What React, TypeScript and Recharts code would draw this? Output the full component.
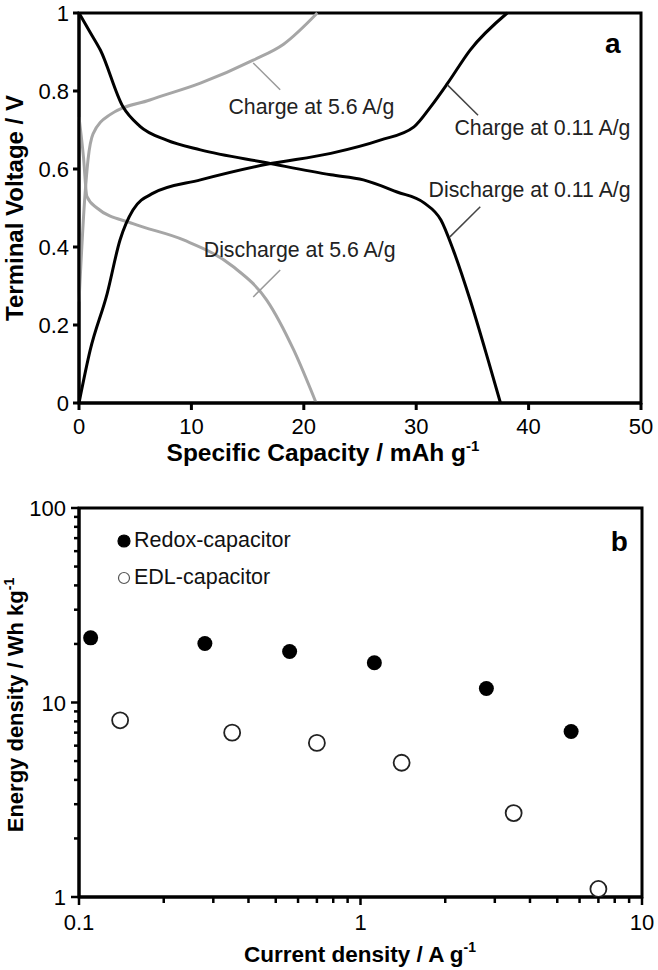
import React from "react";
import {
  LineChart,
  Line,
  XAxis,
  YAxis,
  ScatterChart,
  Scatter,
  ReferenceArea,
  ReferenceLine,
  ReferenceDot,
  Label,
  Legend,
} from "recharts";

// panel a: galvanostatic curves (x = capacity mAh/g, y = voltage V)
const dis011X = [0, 1.0, 1.9, 3.9, 5.4, 7.8, 10.8, 16.7, 22.4, 25.3, 28.3, 30.7, 32.2, 33.3, 34.8, 36.4, 37.5];
const dis011Y = [1.0, 0.95, 0.905, 0.76, 0.71, 0.674, 0.649, 0.616, 0.585, 0.572, 0.541, 0.513, 0.469, 0.392, 0.264, 0.11, 0];
const ch011X = [0, 1.0, 2.5, 3.65, 4.8, 6.6, 10.8, 16.7, 22.4, 26.8, 29.8, 31.3, 32.8, 34.8, 38.1];
const ch011Y = [0, 0.136, 0.28, 0.418, 0.495, 0.538, 0.572, 0.612, 0.64, 0.674, 0.708, 0.76, 0.82, 0.905, 1.0];
const ch56X = [0, 0.5, 0.8, 1.25, 2.8, 6.3, 10.8, 15.5, 18.2, 21.2];
const ch56Y = [0.26, 0.52, 0.623, 0.69, 0.74, 0.777, 0.82, 0.879, 0.92, 1.0];
const dis56X = [0, 0.4, 0.7, 1.6, 4.8, 9.3, 13.7, 16.7, 19.1, 21.1];
const dis56Y = [0.733, 0.63, 0.53, 0.5, 0.46, 0.418, 0.35, 0.264, 0.136, 0];

const capTicks = [0, 10, 20, 30, 40, 50];
const voltTicks = [0, 0.2, 0.4, 0.6, 0.8, 1];

// annotation labels: text start point and leader line
const notes = [
  { text: "Charge at 5.6 A/g", x: 13.3, y: 0.759, from: [15.5, 0.872], to: [17.9, 0.803], color: "#9a9a9a" },
  { text: "Discharge at 5.6 A/g", x: 11.1, y: 0.392, from: [15.5, 0.272], to: [17.9, 0.341], color: "#9a9a9a" },
  { text: "Charge at 0.11 A/g", x: 33.4, y: 0.705, from: [32.8, 0.815], to: [35.5, 0.738], color: "#444" },
  { text: "Discharge at 0.11 A/g", x: 31.1, y: 0.546, from: [35.7, 0.503], to: [33.0, 0.426], color: "#444" },
];

// panel b: energy density vs current density
const redoxX = [0.11, 0.28, 0.56, 1.12, 2.8, 5.6];
const redoxY = [21.5, 20.1, 18.3, 16.0, 11.8, 7.1];
const edlX = [0.14, 0.35, 0.7, 1.4, 3.5, 7.0];
const edlY = [8.1, 7.0, 6.2, 4.9, 2.7, 1.1];

const xDecades = [0.1, 1, 10];
const xMinor = [0.2, 0.3, 0.4, 0.5, 0.6, 0.7, 0.8, 0.9, 2, 3, 4, 5, 6, 7, 8, 9];
const yDecades = [1, 10, 100];
const yMinor = [2, 3, 4, 5, 6, 7, 8, 9, 20, 30, 40, 50, 60, 70, 80, 90];

const FONT = '"Liberation Sans", Arial, sans-serif';
const TICK_FS = 22;

const zip = (xs: number[], ys: number[]) => xs.map((x, i) => ({ x, y: ys[i] }));

function TopChart() {
  return (
    <LineChart width={658} height={470} margin={{ top: 13, right: 17, bottom: 0, left: 0 }}>
      <XAxis
        type="number"
        dataKey="x"
        domain={[0, 50]}
        ticks={capTicks}
        height={67}
        tickSize={7}
        tickMargin={8}
        axisLine={{ stroke: "#000", strokeWidth: 3 }}
        tickLine={{ stroke: "#000", strokeWidth: 3 }}
        tick={{ fill: "#000", fontSize: TICK_FS, fontFamily: FONT }}
      >
        <Label
          content={() => (
            <text x={323} y={461} textAnchor="middle" fontFamily={FONT} fontWeight="bold" fontSize={24.5}>
              <tspan>Specific Capacity / mAh g</tspan>
              <tspan dy={-10} fontSize={15}>-1</tspan>
            </text>
          )}
        />
      </XAxis>
      <YAxis
        type="number"
        domain={[0, 1]}
        ticks={voltTicks}
        width={79}
        tickSize={6}
        tickMargin={4}
        tickFormatter={(v: number) => String(v)}
        axisLine={{ stroke: "#000", strokeWidth: 3 }}
        tickLine={{ stroke: "#000", strokeWidth: 3 }}
        tick={{ fill: "#000", fontSize: TICK_FS, fontFamily: FONT }}
      >
        <Label
          content={() => (
            <text
              x={23}
              y={208}
              textAnchor="middle"
              fontFamily={FONT}
              fontWeight="bold"
              fontSize={24}
              transform="rotate(-90 23 208)"
            >
              Terminal Voltage / V
            </text>
          )}
        />
      </YAxis>
      <ReferenceArea x1={0} x2={50} y1={0} y2={1} fill="none" stroke="#000" strokeWidth={3} ifOverflow="visible" />
      <Line data={zip(ch56X, ch56Y)} dataKey="y" type="monotoneX" stroke="#a6a6a6" strokeWidth={3} dot={false} isAnimationActive={false} />
      <Line data={zip(dis56X, dis56Y)} dataKey="y" type="monotoneX" stroke="#a6a6a6" strokeWidth={3} dot={false} isAnimationActive={false} />
      <Line data={zip(dis011X, dis011Y)} dataKey="y" type="monotoneX" stroke="#000" strokeWidth={3} dot={false} isAnimationActive={false} />
      <Line data={zip(ch011X, ch011Y)} dataKey="y" type="monotoneX" stroke="#000" strokeWidth={3} dot={false} isAnimationActive={false} />
      {notes.map((n) => (
        <ReferenceLine
          key={n.text + "l"}
          segment={[
            { x: n.from[0], y: n.from[1] },
            { x: n.to[0], y: n.to[1] },
          ]}
          stroke={n.color}
          strokeWidth={1.5}
        />
      ))}
      {notes.map((n) => (
        <ReferenceDot
          key={n.text}
          x={n.x}
          y={n.y}
          r={0}
          stroke="none"
          fill="none"
          label={(p: any) => (
            <text x={p.viewBox.x} y={p.viewBox.y + 7} fontFamily={FONT} fontSize={21.3} fill="#222">
              {n.text}
            </text>
          )}
        />
      ))}
      <ReferenceDot
        x={47.5}
        y={0.92}
        r={0}
        stroke="none"
        fill="none"
        label={(p: any) => (
          <text x={p.viewBox.x} y={p.viewBox.y + 9} textAnchor="middle" fontFamily={FONT} fontWeight="bold" fontSize={28}>
            a
          </text>
        )}
      />
    </LineChart>
  );
}

const fmt = (v: number) => (v < 1 ? v.toFixed(1) : String(v));

function LogTickX(props: any) {
  const { x, y, payload } = props;
  const major = xDecades.includes(payload.value);
  return (
    <g>
      <line x1={x} x2={x} y1={y} y2={y + (major ? 8 : 6)} stroke="#000" strokeWidth={2.5} />
      {major && (
        <text x={x} y={y + 33} textAnchor="middle" fontFamily={FONT} fontSize={TICK_FS} fill="#000">
          {fmt(payload.value)}
        </text>
      )}
    </g>
  );
}

function LogTickY(props: any) {
  const { x, y, payload } = props;
  const major = yDecades.includes(payload.value);
  return (
    <g>
      <line x1={x} x2={x - (major ? 8 : 5)} y1={y} y2={y} stroke="#000" strokeWidth={2.5} />
      {major && (
        <text x={x - 13} y={y + 8} textAnchor="end" fontFamily={FONT} fontSize={TICK_FS} fill="#000">
          {fmt(payload.value)}
        </text>
      )}
    </g>
  );
}

function LegendBox() {
  const row = (filled: boolean, label: string) => (
    <div style={{ display: "flex", alignItems: "center", height: 37 }}>
      <svg width={14} height={14} style={{ marginRight: 3 }}>
        <circle cx={7} cy={7} r={filled ? 6 : 5.5} fill={filled ? "#000" : "#fff"} stroke={filled ? "#000" : "#555"} strokeWidth={1.2} />
      </svg>
      <span style={{ fontFamily: FONT, fontSize: 21.5, color: "#111" }}>{label}</span>
    </div>
  );
  return (
    <div>
      {row(true, "Redox-capacitor")}
      {row(false, "EDL-capacitor")}
    </div>
  );
}

function BottomChart() {
  return (
    <ScatterChart width={658} height={500} margin={{ top: 38, right: 16, bottom: 0, left: 0 }}>
      <XAxis
        type="number"
        dataKey="x"
        scale="log"
        domain={[0.1, 10]}
        ticks={[...xDecades, ...xMinor]}
        allowDataOverflow
        height={73}
        tickSize={0}
        tickMargin={0}
        tickLine={false}
        axisLine={{ stroke: "#000", strokeWidth: 3 }}
        tick={<LogTickX />}
        interval={0}
      >
        <Label
          content={() => (
            <text x={360} y={492} textAnchor="middle" fontFamily={FONT} fontWeight="bold" fontSize={22.5}>
              <tspan>Current density / A g</tspan>
              <tspan dy={-10} fontSize={14}>-1</tspan>
            </text>
          )}
        />
      </XAxis>
      <YAxis
        type="number"
        dataKey="y"
        scale="log"
        domain={[1, 100]}
        ticks={[...yDecades, ...yMinor]}
        allowDataOverflow
        width={79}
        tickSize={0}
        tickMargin={0}
        tickLine={false}
        axisLine={{ stroke: "#000", strokeWidth: 3 }}
        tick={<LogTickY />}
        interval={0}
      >
        <Label
          content={() => (
            <text
              x={23}
              y={235}
              textAnchor="middle"
              fontFamily={FONT}
              fontWeight="bold"
              fontSize={22}
              transform="rotate(-90 23 235)"
            >
              <tspan>Energy density / Wh kg</tspan>
              <tspan dy={-9} fontSize={14}>-1</tspan>
            </text>
          )}
        />
      </YAxis>
      <ReferenceArea x1={0.1} x2={10} y1={1} y2={100} fill="none" stroke="#000" strokeWidth={3} ifOverflow="visible" />
      <Legend
        layout="vertical"
        align="center"
        verticalAlign="middle"
        content={() => <LegendBox />}
        wrapperStyle={{ position: "absolute", left: 117, top: 52, width: 240 }}
      />
      <Scatter
        name="Redox-capacitor"
        data={zip(redoxX, redoxY)}
        isAnimationActive={false}
        shape={(p: any) => <circle cx={p.cx} cy={p.cy} r={7.5} fill="#000" />}
      />
      <Scatter
        name="EDL-capacitor"
        data={zip(edlX, edlY)}
        isAnimationActive={false}
        shape={(p: any) => <circle cx={p.cx} cy={p.cy} r={8} fill="#fff" stroke="#222" strokeWidth={1.8} />}
      />
      <ReferenceDot
        x={8.3}
        y={68}
        r={0}
        stroke="none"
        fill="none"
        label={(p: any) => (
          <text x={p.viewBox.x} y={p.viewBox.y + 10} textAnchor="middle" fontFamily={FONT} fontWeight="bold" fontSize={28}>
            b
          </text>
        )}
      />
    </ScatterChart>
  );
}

export default function App() {
  return (
    <div style={{ position: "absolute", left: 0, top: 0, width: 658, height: 970, background: "#fff" }}>
      <div style={{ position: "absolute", left: 0, top: 0 }}>
        <TopChart />
      </div>
      <div style={{ position: "absolute", left: 0, top: 470 }}>
        <BottomChart />
      </div>
    </div>
  );
}
